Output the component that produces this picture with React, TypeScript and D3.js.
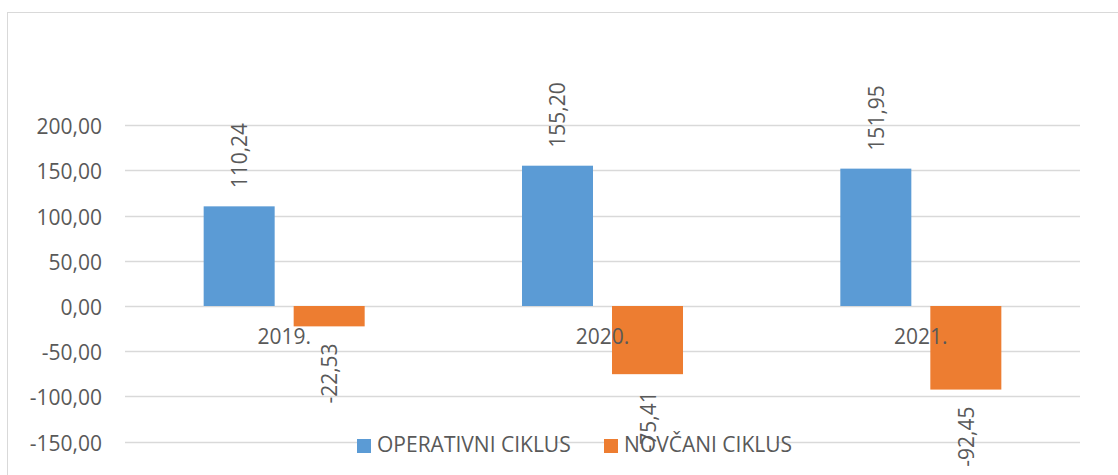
import React from "react";
import * as d3 from "d3";

const categories = ["2019.", "2020.", "2021."];
const seriesNames = ["OPERATIVNI CIKLUS", "NOVČANI CIKLUS"];
const operativni = [110.24, 155.2, 151.95];
const novcani = [-22.53, -75.41, -92.45];
const yTicks = [-150, -100, -50, 0, 50, 100, 150, 200];
const colors = ["#5B9BD5", "#ED7D31"];

const W = 1118;
const H = 475;
const FONT = "'Open Sans', 'Liberation Sans', sans-serif";
const TXT = "#595959";
const FS = 21;

const fmt = (v: number) => v.toFixed(2).replace(".", ",");

export default function App() {
  const x = d3.scaleBand<string>().domain(categories).range([125, 1080]).padding(0);
  const xi = d3
    .scaleBand<string>()
    .domain(seriesNames)
    .range([0, x.bandwidth()])
    .paddingInner(19 / 90)
    .paddingOuter(0.874);
  const y = d3.scaleLinear().domain([-200, 200]).range([486.8, 125.2]);
  const seriesValues = [operativni, novcani];

  const legendItems = [
    { name: seriesNames[0], sx: 357, tx: 377, w: 198 },
    { name: seriesNames[1], sx: 604, tx: 624, w: 172 },
  ];

  return (
    <svg
      width={W}
      height={H}
      style={{ position: "absolute", left: 0, top: 0, background: "#fff" }}
      fontFamily={FONT}
    >
      <rect x={0} y={0} width={W} height={H} fill="#fff" />
      <rect x={7.5} y={12.5} width={1300} height={600} fill="none" stroke="#D9D9D9" strokeWidth={1} />
      {yTicks.map((t) => (
        <line
          key={t}
          x1={125}
          x2={1080}
          y1={Math.round(y(t)) + 0.5}
          y2={Math.round(y(t)) + 0.5}
          stroke="#D9D9D9"
          strokeWidth={1.3}
        />
      ))}
      {yTicks.map((t) => (
        <text
          key={"l" + t}
          x={102}
          y={y(t) + 1}
          textAnchor="end"
          dominantBaseline="central"
          fontSize={FS}
          fill={TXT}
        >
          {fmt(t)}
        </text>
      ))}
      {seriesValues.map((vals, si) =>
        vals.map((v, ci) => {
          const bx = (x(categories[ci]) as number) + (xi(seriesNames[si]) as number);
          const y0 = y(0);
          const yv = y(v);
          return (
            <rect
              key={si + "-" + ci}
              x={bx}
              y={Math.min(y0, yv)}
              width={xi.bandwidth()}
              height={Math.abs(yv - y0)}
              fill={colors[si]}
            />
          );
        })
      )}
      {categories.map((c) => (
        <text
          key={c}
          x={(x(c) as number) + x.bandwidth() / 2}
          y={344}
          textAnchor="middle"
          fontSize={FS}
          fill={TXT}
        >
          {c}
        </text>
      ))}
      {legendItems.map((it, i) => (
        <g key={it.name}>
          <rect x={it.sx} y={436} width={it.w} height={21} fill="#fff" />
          <rect x={it.sx} y={439} width={14} height={14} fill={colors[i]} />
          <text x={it.tx} y={452} fontSize={FS} fill={TXT}>
            {it.name}
          </text>
        </g>
      ))}
      {seriesValues.map((vals, si) =>
        vals.map((v, ci) => {
          const cx =
            (x(categories[ci]) as number) + (xi(seriesNames[si]) as number) + xi.bandwidth() / 2;
          const pos = v >= 0;
          const ly = pos ? y(v) - 18 : y(v) + 17;
          return (
            <text
              key={"d" + si + "-" + ci}
              transform={`translate(${cx},${ly}) rotate(-90)`}
              textAnchor={pos ? "start" : "end"}
              dominantBaseline="central"
              fontSize={FS}
              fill={TXT}
            >
              {fmt(v)}
            </text>
          );
        })
      )}
    </svg>
  );
}
